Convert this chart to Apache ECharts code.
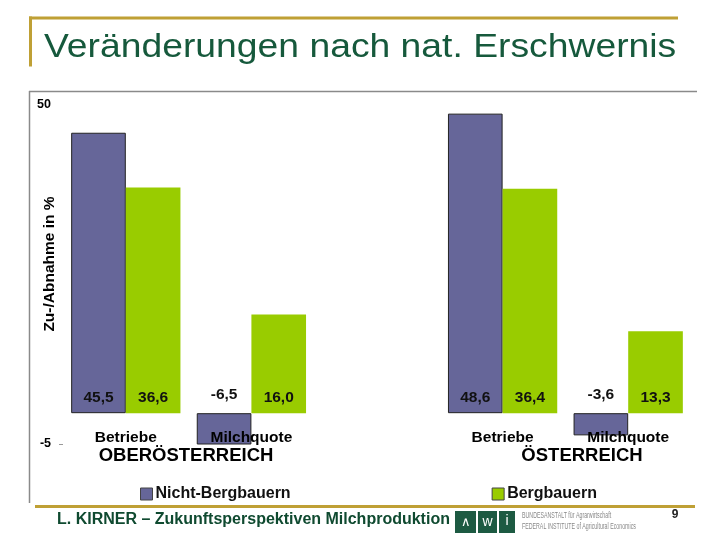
<!DOCTYPE html>
<html>
<head>
<meta charset="utf-8">
<script src="https://cdn.jsdelivr.net/npm/echarts@6/dist/echarts.min.js"></script>
<style>html,body{margin:0;padding:0;background:#fff;}#c{width:720px;height:540px;}</style>
</head>
<body>
<div id="c"></div>
<script>
const categories = ['Betriebe', 'Milchquote', '', 'Betriebe', 'Milchquote'];
const nichtBergbauern = [45.5, -6.5, null, 48.6, -3.6];
const bergbauern = [36.6, 16.0, null, 36.4, 13.3];
const seriesNames = ['Nicht-Bergbauern', 'Bergbauern'];
const regionLabels = ['OBERÖSTERREICH', 'ÖSTERREICH'];
const yTickLabels = [-5, 50];
const yAxisTitle = 'Zu-/Abnahme in %';
const titleText = 'Veränderungen nach nat. Erschwernis';
const footerText = 'L. KIRNER – Zukunftsperspektiven Milchproduktion';
const pageNumber = '9';

const FONT = '"Liberation Sans", Arial, sans-serif';
const fmt = v => v.toFixed(1).replace('.', ',');
const toData = arr => arr.map(v => v == null ? '-' : ({
  value: v,
  label: v < 0 ? { position: 'top', distance: 10 } : { position: 'insideBottom', distance: 7 }
}));

const labelStyle = {
  show: true,
  fontFamily: FONT, fontWeight: 'bold', fontSize: 15.5, color: '#111',
  formatter: p => fmt(p.value)
};

const chart = echarts.init(document.getElementById('c'), null, { renderer: 'canvas' });
const gold = '#BFA035';
const green = '#16593C';

chart.setOption({
  backgroundColor: '#fff',
  animation: false,
  grid: { left: 63, right: 29, top: 105, bottom: 96, containLabel: false },
  legend: {
    data: seriesNames,
    left: 135, top: 481,
    icon: 'rect', itemWidth: 12, itemHeight: 12, itemGap: 201,
    itemStyle: { borderColor: '#444', borderWidth: 1 },
    textStyle: { fontFamily: FONT, fontWeight: 'bold', fontSize: 16, color: '#111', padding: [0, 0, 0, -2] }
  },
  xAxis: {
    type: 'category', data: categories, z: 10,
    axisLine: { show: false, onZero: true },
    axisTick: { show: false },
    axisLabel: { margin: -14, fontFamily: FONT, fontWeight: 'bold', fontSize: 15.5, color: '#000', interval: 0 },
    splitLine: { show: false }
  },
  yAxis: {
    type: 'value', min: -5, max: 50,
    axisLine: { show: false },
    axisTick: { show: true, customValues: [-5], length: 4, lineStyle: { color: '#999' } },
    splitLine: { show: false },
    axisLabel: { customValues: yTickLabels, margin: 12, fontFamily: FONT, fontWeight: 'bold', fontSize: 12.5, color: '#000' }
  },
  series: [
    {
      name: seriesNames[0], type: 'bar', data: toData(nichtBergbauern),
      barGap: '0%', barCategoryGap: '13%',
      itemStyle: { color: '#666699', borderColor: '#222', borderWidth: 1 },
      label: labelStyle
    },
    {
      name: seriesNames[1], type: 'bar', data: toData(bergbauern),
      barGap: '0%', barCategoryGap: '13%',
      itemStyle: { color: '#99CC00' },
      label: labelStyle
    }
  ],
  graphic: [
    { type: 'rect', shape: { x: 29, y: 16.5, width: 649, height: 3 }, style: { fill: gold } },
    { type: 'rect', shape: { x: 29, y: 16.5, width: 3, height: 50 }, style: { fill: gold } },
    { type: 'text', x: 44, y: 47.5, scaleX: 1.13, style: { text: titleText, font: '33px ' + FONT, fill: green, textVerticalAlign: 'middle' } },
    { type: 'line', shape: { x1: 29, y1: 91.5, x2: 697, y2: 91.5 }, style: { stroke: '#8a8a8a', lineWidth: 1.5 } },
    { type: 'line', shape: { x1: 29.5, y1: 91, x2: 29.5, y2: 503 }, style: { stroke: '#8a8a8a', lineWidth: 1.5 } },
    { type: 'text', x: 50, y: 264, rotation: Math.PI / 2, style: { text: yAxisTitle, font: 'bold 15.5px ' + FONT, fill: '#000', textAlign: 'center', textVerticalAlign: 'middle' } },
    { type: 'text', x: 186, y: 456, style: { text: regionLabels[0], font: 'bold 18.5px ' + FONT, fill: '#000', textAlign: 'center', textVerticalAlign: 'middle' } },
    { type: 'text', x: 582, y: 456, style: { text: regionLabels[1], font: 'bold 18.5px ' + FONT, fill: '#000', textAlign: 'center', textVerticalAlign: 'middle' } },
    { type: 'rect', shape: { x: 35, y: 505, width: 660, height: 3 }, style: { fill: gold } },
    { type: 'text', x: 57, y: 520, style: { text: footerText, font: 'bold 16px ' + FONT, fill: '#0F4A30', textVerticalAlign: 'middle' } },
    { type: 'rect', shape: { x: 455, y: 511, width: 21, height: 22 }, style: { fill: '#1D5A42' } },
    { type: 'rect', shape: { x: 478, y: 511, width: 19, height: 22 }, style: { fill: '#1D5A42' } },
    { type: 'rect', shape: { x: 499, y: 511, width: 16, height: 22 }, style: { fill: '#1D5A42' } },
    { type: 'text', x: 465.5, y: 522, style: { text: '∧', font: '13px ' + FONT, fill: '#fff', textAlign: 'center', textVerticalAlign: 'middle' } },
    { type: 'text', x: 487.5, y: 522, style: { text: 'w', font: '14px ' + FONT, fill: '#fff', textAlign: 'center', textVerticalAlign: 'middle' } },
    { type: 'text', x: 507, y: 521, style: { text: 'i', font: '14px ' + FONT, fill: '#fff', textAlign: 'center', textVerticalAlign: 'middle' } },
    { type: 'text', x: 522, y: 516, scaleX: 0.62, style: { text: 'BUNDESANSTALT für Agrarwirtschaft', font: '8.5px ' + FONT, fill: '#888', textVerticalAlign: 'middle' } },
    { type: 'text', x: 522, y: 527, scaleX: 0.62, style: { text: 'FEDERAL INSTITUTE of Agricultural Economics', font: '8.5px ' + FONT, fill: '#888', textVerticalAlign: 'middle' } },
    { type: 'text', x: 675, y: 515, style: { text: pageNumber, font: 'bold 12px ' + FONT, fill: '#222', textAlign: 'center', textVerticalAlign: 'middle' } }
  ]
});
</script>
</body>
</html>
